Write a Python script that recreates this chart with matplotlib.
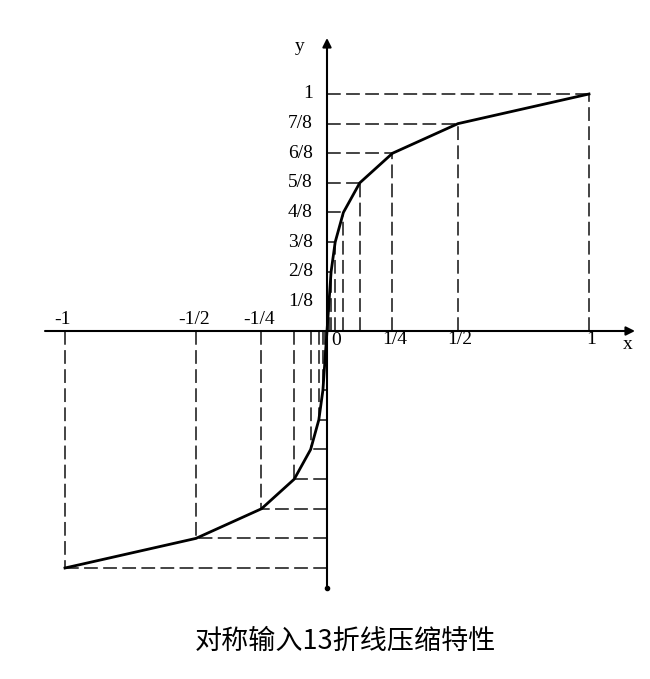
import matplotlib
matplotlib.use("Agg")
import matplotlib.pyplot as plt

# A-law 13-segment breakpoints (positive half; negative half is symmetric)
x_break = [0, 1/128, 1/64, 1/32, 1/16, 1/8, 1/4, 1/2, 1]
y_break = [0, 1/8, 2/8, 3/8, 4/8, 5/8, 6/8, 7/8, 1]
y_tick_labels = ['1/8', '2/8', '3/8', '4/8', '5/8', '6/8', '7/8', '1']
x_pos_labels = ['1/4', '1/2', '1']
x_pos_vals = [1/4, 1/2, 1]
x_neg_labels = ['-1', '-1/2', '-1/4']
x_neg_vals = [-1, -1/2, -1/4]
title = '对称输入13折线压缩特性'

W, H = 650, 679
fig = plt.figure(figsize=(W/100, H/100), dpi=100)
ax = fig.add_axes([0, 0, 1, 1])
ox, oy = 327, 331          # origin pixel
sx, sy = 262, 237          # pixels per unit
ax.set_xlim(-ox/sx, (W-ox)/sx)
ax.set_ylim(-(H-oy)/sy, oy/sy)
ax.axis('off')

serif = ['Liberation Serif', 'DejaVu Serif']

# curve (both halves)
xs = [-v for v in x_break[::-1]] + x_break[1:]
ys = [-v for v in y_break[::-1]] + y_break[1:]
ax.plot(xs, ys, color='black', lw=2.0, solid_joinstyle='round', zorder=3)

# dashed guide lines
dash = dict(color='#111111', lw=1.1, dashes=(9, 3.5), zorder=2)
for xv, yv in zip(x_break[1:], y_break[1:]):
    for s in (1, -1):
        ax.plot([s*xv, s*xv], [0, s*yv], **dash)
        ax.plot([0, s*xv], [s*yv, s*yv], **dash)

# axes with arrows
ax.annotate('', xy=((635-ox)/sx, 0), xytext=((45-ox)/sx, 0),
            arrowprops=dict(arrowstyle='-|>', lw=1.5, color='black',
                            mutation_scale=13, shrinkA=0, shrinkB=0), zorder=4)
ax.annotate('', xy=(0, (oy-38)/sy), xytext=(0, -(588-oy)/sy),
            arrowprops=dict(arrowstyle='-|>', lw=1.5, color='black',
                            mutation_scale=13, shrinkA=0, shrinkB=0), zorder=4)
ax.plot([0], [-(588-oy)/sy], marker='o', ms=3, color='black', zorder=4)

# y tick labels
for lab, yv in zip(y_tick_labels, y_break[1:]):
    ax.text((313-ox)/sx, yv, lab, ha='right', va='center', fontsize=14,
            family=serif)

# x tick labels
for lab, xv in zip(x_pos_labels, x_pos_vals):
    ax.text(xv + 2/sx, -(340-oy)/sy, lab, ha='center', va='center',
            fontsize=14, family=serif)
for lab, xv in zip(x_neg_labels, x_neg_vals):
    ax.text(xv - 2/sx, (oy-320)/sy, lab, ha='center', va='center',
            fontsize=14, family=serif)
ax.text((336-ox)/sx, -(341-oy)/sy, '0', ha='center', va='center',
        fontsize=14, family=serif)

# axis names
ax.text((628-ox)/sx, -(345-oy)/sy, 'x', ha='center', va='center',
        fontsize=14, family=serif)
ax.text((300-ox)/sx, (oy-47)/sy, 'y', ha='center', va='center',
        fontsize=14, family=serif)

# caption
ax.text((345-ox)/sx, -(641-oy)/sy, title, ha='center', va='center',
        fontsize=19.5, family=['Noto Sans CJK SC', 'DejaVu Sans'])

fig.savefig('out.png', dpi=100, facecolor='white')
